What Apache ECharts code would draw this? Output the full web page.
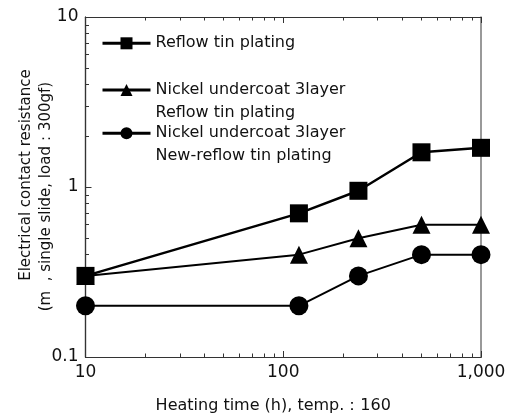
<!DOCTYPE html>
<html>
<head>
<meta charset="utf-8">
<script src="https://cdn.jsdelivr.net/npm/echarts@6/dist/echarts.min.js"></script>
<style>html,body{margin:0;padding:0;background:#fff;}#c{width:507px;height:414px;}</style>
</head>
<body>
<div id="c"></div>
<script>
var hours = [10, 120, 240, 500, 1000];
var reflow = [0.3, 0.7, 0.95, 1.6, 1.7];
var nickelReflow = [0.3, 0.4, 0.5, 0.6, 0.6];
var nickelNewReflow = [0.2, 0.2, 0.3, 0.4, 0.4];
var seriesNames = ['Reflow tin plating', 'Nickel undercoat 3layer\nReflow tin plating', 'Nickel undercoat 3layer\nNew-reflow tin plating'];
var xMajor = [10, 100, 1000];
var xMajorLabels = ['10', '100', '1,000'];
var xMinor = [20, 30, 40, 50, 60, 70, 80, 90, 200, 300, 400, 500, 600, 700, 800, 900];
var yMajor = [0.1, 1, 10];
var yMajorLabels = ['0.1', '1', '10'];
var yMinor = [0.2, 0.3, 0.4, 0.5, 0.6, 0.7, 0.8, 0.9, 2, 3, 4, 5, 6, 7, 8, 9];
var xTitle = 'Heating time (h), temp.：160';
var yTitle = '     Electrical contact resistance\n(m  , single slide, load：300gf)    ';

function pairs(xs, ys) { return xs.map(function (x, i) { return [x, ys[i]]; }); }

var FONT = 'DejaVu Sans';
var axisColor = '#333';

function xAxisDef(pos, ticks, len, show, name) {
  return {
    type: 'log', logBase: 10, min: 10, max: 1000, position: pos,
    gridIndex: 0,
    name: name || '',
    nameLocation: 'middle', nameGap: 39, nameMoveOverlap: false,
    nameTextStyle: { fontFamily: FONT, fontSize: 16, color: '#111', lineHeight: 20, padding: [0, 20, 0, 0] },
    axisLine: { show: true, lineStyle: { color: axisColor, width: 1.2 } },
    axisTick: { show: true, inside: true, length: len, customValues: ticks, lineStyle: { color: axisColor, width: 1 } },
    axisLabel: show ? {
      show: true, customValues: xMajor, fontFamily: FONT, fontSize: 17, color: '#111', margin: 7,
      formatter: function (v) { var i = xMajor.indexOf(v); return i >= 0 ? xMajorLabels[i] : ''; }
    } : { show: false },
    splitLine: { show: false }, minorTick: { show: false }
  };
}
function yAxisDef(pos, ticks, len, show, name, lineColor) {
  return {
    type: 'log', logBase: 10, min: 0.1, max: 10, position: pos,
    name: name || '',
    nameLocation: 'middle', nameGap: 29, nameMoveOverlap: false,
    nameTextStyle: { fontFamily: FONT, fontSize: 15, color: '#111', lineHeight: 20 },
    axisLine: { show: true, lineStyle: { color: lineColor || axisColor, width: lineColor ? 1.5 : 1.2 } },
    axisTick: ticks ? { show: true, inside: true, length: len, customValues: ticks, lineStyle: { color: axisColor, width: 1 } } : { show: false },
    axisLabel: show ? {
      show: true, customValues: yMajor, fontFamily: FONT, fontSize: 17, color: '#111', margin: 7,
      formatter: function (v) { for (var i = 0; i < yMajor.length; i++) { if (Math.abs(yMajor[i] - v) < 1e-9) return yMajorLabels[i]; } return ''; }
    } : { show: false },
    splitLine: { show: false }, minorTick: { show: false }
  };
}

function legendAt(top, name, multi) {
  var l = {
    orient: 'vertical', left: 101, itemWidth: 48, itemHeight: 15, itemGap: 0, padding: 0,
    selectedMode: false,
    lineStyle: { width: 3 },
    textStyle: { fontFamily: FONT, fontSize: 16, color: '#111', lineHeight: 23 },
    top: top, data: [name]
  };
  if (multi) l.formatter = function (n) { return '\n' + n; };
  return l;
}

var chart = echarts.init(document.getElementById('c'), null, { renderer: 'canvas' });
chart.setOption({
  backgroundColor: '#fff',
  animation: false,
  grid: { left: 85.5, right: 26, top: 17, bottom: 57, containLabel: false, outerBoundsMode: 'none' },
  legend: [
    legendAt(31.8, seriesNames[0], false),
    legendAt(55.5, seriesNames[1], true),
    legendAt(98.8, seriesNames[2], true)
  ],
  xAxis: [
    xAxisDef('bottom', xMajor, 6, true, xTitle),
    xAxisDef('bottom', xMinor, 3.5, false),
    xAxisDef('top', xMajor, 6, false),
    xAxisDef('top', xMinor, 3.5, false)
  ],
  yAxis: [
    yAxisDef('left', yMajor, 6, true, yTitle),
    yAxisDef('left', yMinor, 3.5, false),
    yAxisDef('right', null, 0, false, '', '#777')
  ],
  series: [
    {
      name: seriesNames[1], type: 'line', data: pairs(hours, nickelReflow),
      symbol: 'triangle', symbolSize: 18, z: 3,
      lineStyle: { color: '#000', width: 2 }, itemStyle: { color: '#000' }
    },
    {
      name: seriesNames[2], type: 'line', data: pairs(hours, nickelNewReflow),
      symbol: 'circle', symbolSize: 19, z: 3,
      lineStyle: { color: '#000', width: 2 }, itemStyle: { color: '#000' }
    },
    {
      name: seriesNames[0], type: 'line', data: pairs(hours, reflow),
      symbol: 'rect', symbolSize: 18, z: 4,
      lineStyle: { color: '#000', width: 2.5 }, itemStyle: { color: '#000' }
    }
  ]
});
</script>
</body>
</html>
